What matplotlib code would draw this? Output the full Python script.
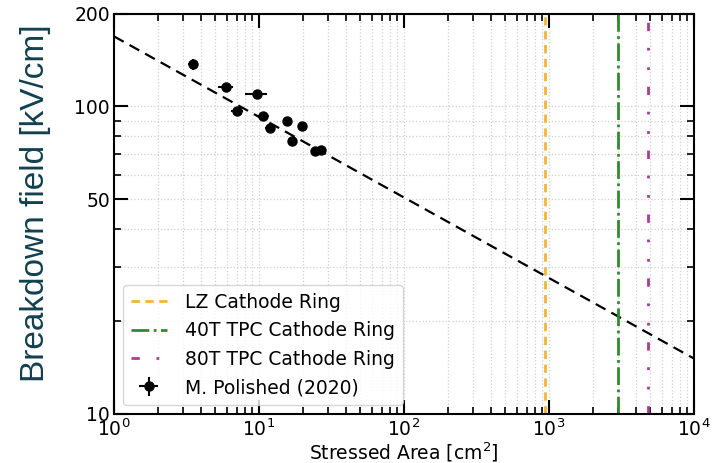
import numpy as np
import matplotlib
matplotlib.use("Agg")
from matplotlib import pyplot as plt
from matplotlib.ticker import FixedLocator, FixedFormatter, LogLocator, NullFormatter

# M. Polished (2020) measurements
area = [3.52, 5.92, 9.64, 7.09, 10.7, 11.9, 15.5, 19.7, 16.8, 24.3, 26.6]
field = [137, 115.6, 109.4, 96.5, 93.0, 85.2, 89.6, 86.3, 77.1, 71.5, 72.0]
area_err = [0.29, 0.69, 1.66, 0.70, 1.07, 0.99, 0.5, 0.6, 0.5, 0.9, 1.0]
field_err = [5.2, 1.5, 1.5, 1.5, 1.5, 1.5, 1.5, 1.5, 1.5, 1.5, 1.5]

# power law fit E = a * A^b
fit_a = 169.0
fit_b = -0.262

# cathode ring areas
lz_area = 940
tpc40_area = 3000
tpc80_area = 4850

fig = plt.figure(figsize=(7.17, 4.63), dpi=100)
ax = fig.add_axes([0.159, 0.106, 0.809, 0.864])

xs = np.logspace(0, 4, 200)
ax.plot(xs, fit_a * xs**fit_b, color='black', ls='--', lw=1.6, dashes=(5, 3))

ax.axvline(lz_area, color='#f2b535', ls='--', lw=2, dashes=(3, 2), label='LZ Cathode Ring')
ax.axvline(tpc40_area, color='#2e8b2e', ls='-.', lw=2, label='40T TPC Cathode Ring')
ax.axvline(tpc80_area, color='#a83c98', lw=2, dashes=(3, 6, 1, 6, 1, 6),
           label='80T TPC Cathode Ring')

ax.errorbar(area, field, xerr=area_err, yerr=field_err, fmt='o', color='black',
            ms=6.5, elinewidth=1.5, capsize=0, label='M. Polished (2020)')

ax.set_xscale('log')
ax.set_yscale('log')
ax.set_xlim(1, 1e4)
ax.set_ylim(10, 200)

ax.yaxis.set_major_locator(FixedLocator([10, 50, 100, 200]))
ax.yaxis.set_major_formatter(FixedFormatter(['10', '50', '100', '200']))
ax.yaxis.set_minor_locator(LogLocator(base=10, subs=np.arange(2, 10)))
ax.yaxis.set_minor_formatter(NullFormatter())

ax.tick_params(which='both', direction='in', top=True, right=True, labelsize=13.5, pad=3)
ax.tick_params(which='major', length=10, width=1.5)
ax.tick_params(which='minor', length=5, width=1.2)
for s in ax.spines.values():
    s.set_linewidth(1.5)

ax.grid(which='both', color='#d0d0d0', ls=':', lw=0.9)

ax.set_xlabel('Stressed Area [cm$^2$]', fontsize=13.5, labelpad=1)
ax.set_ylabel('Breakdown field [kV/cm]', fontsize=24, color='#12404f',
              family='Liberation Sans')
ax.yaxis.set_label_coords(-0.108, 0.527)

ax.legend(loc='lower left', fontsize=13.5, handlelength=1.9, handletextpad=1.0,
          framealpha=0.8)

fig.savefig('out.png', dpi=100)
